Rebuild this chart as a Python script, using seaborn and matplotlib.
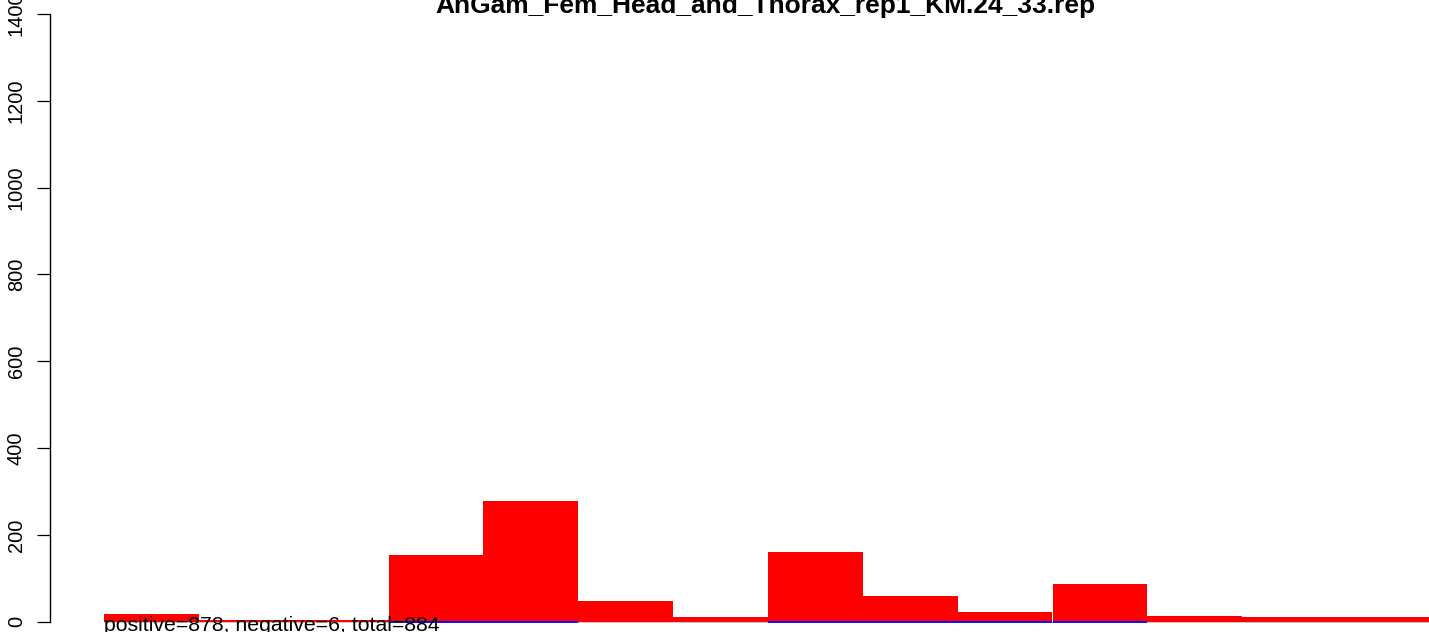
import matplotlib
matplotlib.use("Agg")
import matplotlib.pyplot as plt
import seaborn as sns
import pandas as pd

# Data
bins = [f"b{i}" for i in range(1, 15)]
positive = [18, 3, 3, 154, 277, 48, 11, 161, 59, 22, 87, 13, 11, 11]
negative = [0, 0, 0, -1, -1, 0, 0, -1, -1, -1, -1, 0, 0, 0]
yticks = [0, 200, 400, 600, 800, 1000, 1200, 1400]
title = "AnGam_Fem_Head_and_Thorax_rep1_KM.24_33.rep"
note = "positive=878, negative=6, total=884"

sns.set_style("white")
plt.rcParams['font.family'] = ['Liberation Sans', 'DejaVu Sans']
plt.rcParams['text.color'] = 'black'
plt.rcParams['axes.labelcolor'] = 'black'
plt.rcParams['ytick.color'] = 'black'
plt.rcParams['xtick.color'] = 'black'

W, H = 1429, 632
fig = plt.figure(figsize=(W / 100, H / 100), dpi=100)
ax = fig.add_axes([50 / W, 0, 1 - 50 / W, 1])

df = pd.DataFrame({"bin": bins, "pos": positive, "neg": negative})

ax.hlines(0, -0.5, len(bins), color="#BEBEBE", lw=1.2, zorder=0)
sns.barplot(data=df, x="bin", y="pos", color="#FF0000", width=1, saturation=1,
            linewidth=0, ax=ax, zorder=2)
sns.barplot(data=df[df["neg"] < 0], x="bin", y="neg", color="#0000FF", width=1,
            saturation=1, edgecolor="#0000FF", linewidth=1.3, ax=ax, zorder=3,
            order=bins)

bw = 94.85
ax.set_xlim(-0.5 - 54 / bw, -0.5 + (W - 104) / bw)
ppu = 607.7 / 1400
ax.set_ylim(-10.3 / ppu, 1400 + 14 / ppu)

for s in ["top", "right", "bottom"]:
    ax.spines[s].set_visible(False)
ax.spines["left"].set_bounds(0, 1400)
ax.spines["left"].set_linewidth(1.0)
ax.spines["left"].set_color("black")
ax.set_xticks([])
ax.set_xlabel("")
ax.set_ylabel("")
ax.set_yticks(yticks)
ax.set_yticklabels([str(v) for v in yticks], rotation=90, va="center",
                   fontsize=14.4, color="black")
ax.tick_params(axis="y", length=9.4, width=0.9, pad=8, left=True, color="black")

fig.text(765 / W, (H - 13) / H, title, ha="center", va="baseline",
         fontsize=19, fontweight="bold", color="black")
ax.text(-0.5, -9.3 / ppu, note, transform=ax.transData, fontsize=15.3,
        ha="left", va="baseline", zorder=5, color="black")

fig.savefig("out.png", dpi=100)
